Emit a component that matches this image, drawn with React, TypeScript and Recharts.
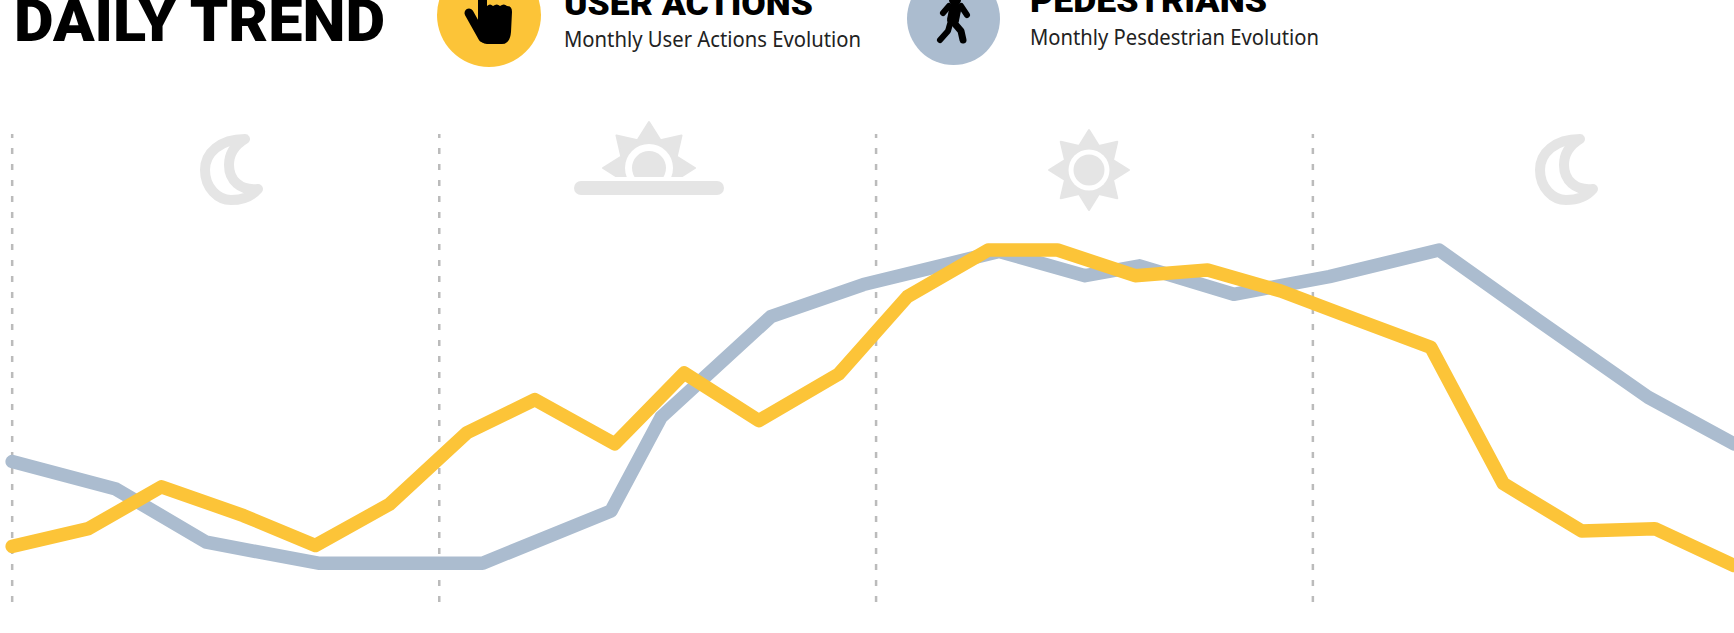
import { LineChart, Line, XAxis, YAxis, ReferenceLine } from 'recharts'

const W = 1734
const H = 633

// hour of day and activity index 0-100
const PEDESTRIAN_HOURS = [0, 1.39, 2.6, 4.1, 6.3, 8.02, 8.69, 10.16, 11.4, 13.22, 14.37, 15.1, 16.36, 17.64, 19.11, 20.43, 21.91, 23.06]
const PEDESTRIAN_VALUES = [30, 24.1, 12.7, 8.2, 8.2, 19.4, 39.5, 61.1, 68, 75.1, 69.9, 72, 65.9, 69.7, 75.4, 60.4, 43.8, 33.8]
const ACTION_HOURS = [0, 1.02, 2, 3.1, 4.06, 5.05, 6.09, 7, 8.07, 9, 10, 11.07, 11.99, 13.07, 14, 15.04, 16.01, 16.99, 18, 19, 19.97, 21.02, 22, 23.06]
const ACTION_VALUES = [11.8, 15.6, 24.6, 18.4, 12, 20.8, 36.2, 43.3, 33.8, 49, 38.8, 48.8, 65.4, 75.4, 75.4, 69.9, 71.1, 66.6, 60.5, 54.5, 25.3, 15.1, 15.6, 7.7]
const PERIOD_HOURS = [0, 5.72, 11.57, 17.42]

const pedestrians = PEDESTRIAN_HOURS.map((hour, i) => ({ hour, value: PEDESTRIAN_VALUES[i] }))
const actions = ACTION_HOURS.map((hour, i) => ({ hour, value: ACTION_VALUES[i] }))

const YELLOW = '#FCC438'
const BLUE = '#ABBCCF'
const ICON = '#E5E5E5'
const TITLE_FONT = 'Roboto, sans-serif'
const BODY_FONT = '"Noto Sans", sans-serif'

function starPoints(cx: number, cy: number, outer: number, inner: number) {
  const pts: string[] = []
  for (let i = 0; i < 16; i++) {
    const r = i % 2 === 0 ? outer : inner
    const a = (i * Math.PI) / 8 - Math.PI / 2
    pts.push(`${cx + r * Math.cos(a)},${cy + r * Math.sin(a)}`)
  }
  return pts.join(' ')
}

function Moon({ dx }: { dx: number }) {
  return (
    <path
      transform={`translate(${dx} 0)`}
      d="M245 139 C220 139 205 153 205 170 C205 188 218 200 231 200 C243 200 252 196 258 189 C240 191 229 180 229 165 C229 154 235 145 245 139 Z"
      fill="#fff"
      stroke={ICON}
      strokeWidth={10}
      strokeLinejoin="round"
    />
  )
}

function Sun() {
  return (
    <g>
      <polygon points={starPoints(1089, 170, 40, 26)} fill={ICON} stroke={ICON} strokeWidth={2} strokeLinejoin="round" />
      <circle cx={1089} cy={170} r={20.5} fill="#fff" />
      <circle cx={1089} cy={170} r={15.5} fill={ICON} />
    </g>
  )
}

function Sunrise() {
  return (
    <g>
      <defs>
        <clipPath id="horizon">
          <rect x={570} y={100} width={160} height={77} />
        </clipPath>
      </defs>
      <g clipPath="url(#horizon)">
        <polygon points={starPoints(649, 168, 46, 30)} fill={ICON} stroke={ICON} strokeWidth={2} strokeLinejoin="round" />
        <circle cx={649} cy={168} r={24} fill="#fff" />
        <circle cx={649} cy={168} r={17} fill={ICON} />
      </g>
      <rect x={574} y={181} width={150} height={14} rx={7} fill={ICON} />
    </g>
  )
}

function Header() {
  return (
    <g>
      <text x={14} y={41} fontFamily={TITLE_FONT} fontWeight={900} fontSize={60} textLength={371} lengthAdjust="spacingAndGlyphs" fill="#000">DAILY TREND</text>

      <circle cx={489} cy={15} r={52} fill={YELLOW} />
      <path d="M478 -5 Q482 -8 487 -5 L487 6 Q490 3 493 6 Q497 3 500 6 Q504 3 507 6 Q512 6 512 12 L511 32 Q510 44 502 44 L487 44 Q481 44 478 36 Z" fill="#000" />
      <line x1={469} y1={13} x2={483} y2={38} stroke="#000" strokeWidth={9} strokeLinecap="round" />
      <text x={564} y={15} fontFamily={TITLE_FONT} fontWeight={900} fontSize={34} textLength={249} lengthAdjust="spacingAndGlyphs" fill="#000">USER ACTIONS</text>
      <text x={564} y={47} fontFamily={BODY_FONT} fontSize={21} textLength={297} lengthAdjust="spacingAndGlyphs" fill="#222">Monthly User Actions Evolution</text>

      <circle cx={953.5} cy={18.5} r={46.5} fill={BLUE} />
      <g stroke="#000" strokeLinecap="round" strokeLinejoin="round" fill="none">
        <circle cx={955} cy={0} r={6} fill="#000" stroke="none" />
        <line x1={955} y1={10} x2={953} y2={20} strokeWidth={12} />
        <path d="M949 6 L943 13" strokeWidth={6} />
        <path d="M961 6 L967 15" strokeWidth={6} />
        <path d="M950 24 L948 31 L940 40" strokeWidth={6} />
        <path d="M955 24 L961 31 L963 40" strokeWidth={7} />
      </g>
      <text x={1030} y={12} fontFamily={TITLE_FONT} fontWeight={900} fontSize={34} textLength={237} lengthAdjust="spacingAndGlyphs" fill="#000">PEDESTRIANS</text>
      <text x={1030} y={45} fontFamily={BODY_FONT} fontSize={21} textLength={289} lengthAdjust="spacingAndGlyphs" fill="#222">Monthly Pesdestrian Evolution</text>

      <Moon dx={0} />
      <Sunrise />
      <Sun />
      <Moon dx={1335} />
    </g>
  )
}

export default function App() {
  return (
    <div style={{ position: 'absolute', left: 0, top: 0, width: W, height: H, background: '#fff', overflow: 'hidden' }}>
      <svg width={W} height={H} style={{ position: 'absolute', left: 0, top: 0 }}>
        <Header />
      </svg>
      <div style={{ position: 'absolute', left: 0, top: 0 }}>
        <LineChart width={W} height={H} margin={{ top: 134, right: 0, bottom: 31, left: 0 }}>
          <XAxis hide type="number" dataKey="hour" domain={[-0.163, 23.06]} />
          <YAxis hide type="number" dataKey="value" domain={[-0.13, 100.3]} />
          {PERIOD_HOURS.map(h => (
            <ReferenceLine key={h} x={h} stroke="#BBBBBB" strokeWidth={2.5} strokeDasharray="6 10" />
          ))}
          <Line data={pedestrians} dataKey="value" stroke={BLUE} strokeWidth={13.5} strokeLinecap="round" strokeLinejoin="round" dot={false} activeDot={false} isAnimationActive={false} />
          <Line data={actions} dataKey="value" stroke={YELLOW} strokeWidth={13.5} strokeLinecap="round" strokeLinejoin="round" dot={false} activeDot={false} isAnimationActive={false} />
        </LineChart>
      </div>
    </div>
  )
}
